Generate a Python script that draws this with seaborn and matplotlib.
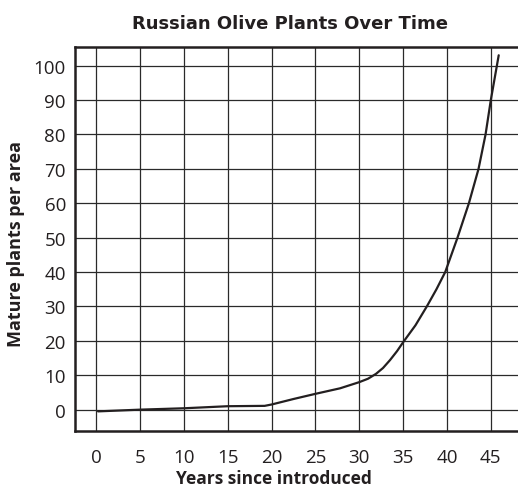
import seaborn as sns
import matplotlib.pyplot as plt
import pandas as pd

# values
years = [0.2, 5, 10, 15, 19.2, 20, 22.5, 25, 27.8, 30, 31, 31.9, 32.7, 33.5, 34.3, 35, 36.4, 37.7, 38.8,
         39.8, 41.2, 42.5, 43.6, 44.4, 45, 45.9]
plants = [-0.5, 0, 0.4, 1.0, 1.1, 1.5, 3.1, 4.6, 6.2, 8.0, 9.0, 10.4, 12.1, 14.4, 17.0, 19.6, 24.5, 30, 35,
          40, 50, 60, 70, 80, 90, 103]
xticks = [0, 5, 10, 15, 20, 25, 30, 35, 40, 45]
yticks = [0, 10, 20, 30, 40, 50, 60, 70, 80, 90, 100]

df = pd.DataFrame({"years": years, "plants": plants})

sns.set_style("white")
plt.rcParams["font.family"] = ["Open Sans", "DejaVu Sans"]

fig = plt.figure(figsize=(5.18, 4.89), dpi=100)
ax = fig.add_axes([0.1448, 0.1166, 0.8552, 0.7852])

sns.lineplot(data=df, x="years", y="plants", ax=ax, color="#231f20", lw=1.6, sort=False)

ax.set_xlim(-2.43, 48.1)
ax.set_ylim(-6.2, 105.4)
ax.set_xticks(xticks)
ax.set_yticks(yticks)
ax.grid(True, color="#2a2a2a", lw=0.9)
ax.set_axisbelow(True)

ax.spines["right"].set_visible(False)
for s in ["left", "top", "bottom"]:
    ax.spines[s].set_linewidth(1.8)
    ax.spines[s].set_color("#231f20")

ax.tick_params(axis="x", length=6, width=1, color="#231f20", pad=6.5, labelsize=13.5, labelcolor="#231f20")
ax.tick_params(axis="y", length=0, pad=6.5, labelsize=13.5, labelcolor="#231f20")

ax.set_xlabel("Years since introduced", fontsize=12.5, fontweight="bold", color="#231f20")
ax.set_ylabel("Mature plants per area", fontsize=13, fontweight="bold", color="#231f20")
ax.xaxis.set_label_coords(0.448, -0.1)
ax.yaxis.set_label_coords(-0.113, 0.49)
ax.set_title("Russian Olive Plants Over Time", fontsize=13, fontweight="bold",
             family=["DejaVu Sans"], color="#231f20", pad=14, x=0.486)

fig.savefig("out.png", dpi=100)
